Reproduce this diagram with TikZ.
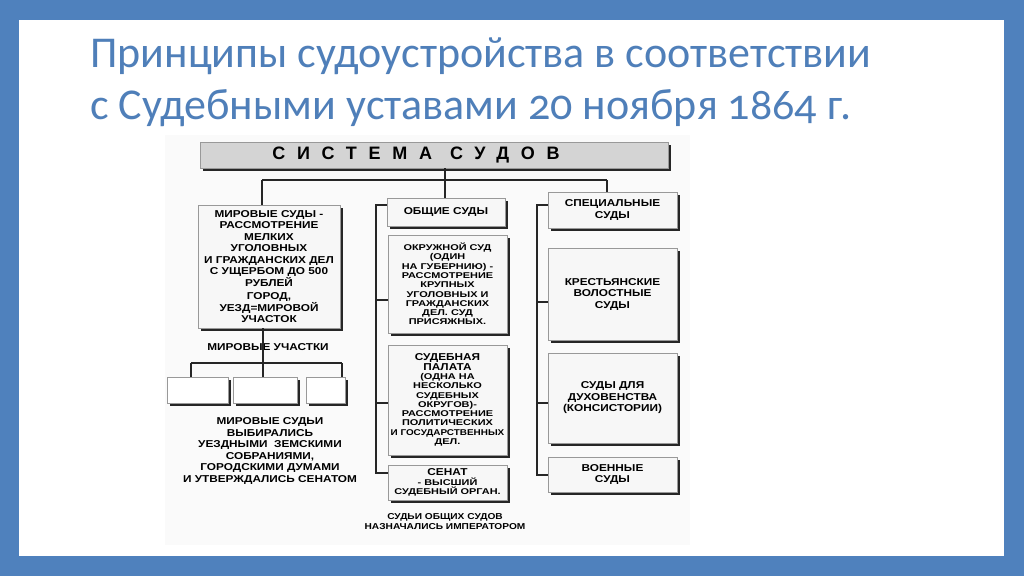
\documentclass[tikz,border=0pt]{standalone}
\usepackage{fontspec}
\setmainfont{Liberation Sans}
\newfontfamily\titrefont[Numbers=OldStyle]{Carlito}
\newfontfamily\scan[FakeStretch=1.18]{Liberation Sans}
\newfontfamily\scanl[FakeStretch=1.3]{Liberation Sans}
\usetikzlibrary{shadows}
\definecolor{bleu}{HTML}{4F81BD}
\definecolor{bleutexte}{HTML}{4F7FB9}
\newcommand\gros[1]{{\scan\fontsize{10}{11}\selectfont #1}}
\begin{document}
\begin{tikzpicture}[x=1pt,y=-1pt]
\tikzset{boite/.style={draw=black!40, fill=black!3, line width=0.4pt,
    drop shadow={shadow xshift=3pt, shadow yshift=-3pt, fill=black!85, opacity=1},
    align=center, inner sep=1pt, font=\scan\bfseries\fontsize{10}{11.5}\selectfont},
  petite/.style={boite, font=\scanl\bfseries\fontsize{8.4}{9.3}\selectfont},
  legende/.style={align=center, inner sep=0pt, font=\scan\bfseries\fontsize{10}{11.5}\selectfont},
  ligne/.style={line width=1.2pt, black!85},
  titre/.style={anchor=base west, inner sep=0pt, text=bleutexte, font=\titrefont\fontsize{44}{46}\selectfont}}
\useasboundingbox (0,0) rectangle (1024,576);
\fill[bleu] (0,0) rectangle (1024,576);
\fill[white] (19,20) rectangle (1004,556);
\node[titre] (titre1) at (90,67) {Принципы судоустройства в соответствии};
\node[titre] (titre2) at (90,119) {с Судебными уставами 20 ноября 1864 г.};
% fond du schema
\fill[black!2] (165,135) rectangle (690,545);
% systeme
\node[boite, fill=black!17, minimum width=468, minimum height=26,
  font=\bfseries\fontsize{18}{18}\selectfont\addfontfeature{LetterSpace=65}] (sys) at (434,155)
  {СИСТЕМА\quad СУДОВ\kern36pt};
% mirovye sudy
\node[boite, minimum width=142, minimum height=123] (mir) at (269,266.5)
  {МИРОВЫЕ СУДЫ -\\РАССМОТРЕНИЕ\\МЕЛКИХ\\УГОЛОВНЫХ\\И ГРАЖДАНСКИХ ДЕЛ\\С УЩЕРБОМ ДО 500\\РУБЛЕЙ\\[2pt]ГОРОД,\\УЕЗД=МИРОВОЙ\\УЧАСТОК};
\node[legende] (uch) at (268,347) {МИРОВЫЕ УЧАСТКИ};
\node[boite, fill=white, minimum width=61, minimum height=26] (uc1) at (197.5,390) {};
\node[boite, fill=white, minimum width=64, minimum height=26] (uc2) at (265,390) {};
\node[boite, fill=white, minimum width=39, minimum height=26] (uc3) at (325.5,390) {};
\node[legende] (vybor) at (270,451)
  {МИРОВЫЕ СУДЬИ\\ВЫБИРАЛИСЬ\\УЕЗДНЫМИ\ \ ЗЕМСКИМИ\\СОБРАНИЯМИ,\\ГОРОДСКИМИ ДУМАМИ\\И УТВЕРЖДАЛИСЬ СЕНАТОМ};
% obshchie sudy
\node[boite, minimum width=118, minimum height=28] (gen) at (446,212) {ОБЩИЕ СУДЫ};
\node[petite, minimum width=119, minimum height=98] (okr) at (447.5,284)
  {ОКРУЖНОЙ СУД\\(ОДИН\\НА ГУБЕРНИЮ) -\\РАССМОТРЕНИЕ\\КРУПНЫХ\\УГОЛОВНЫХ И\\ГРАЖДАНСКИХ\\ДЕЛ. СУД\\ПРИСЯЖНЫХ.};
\node[petite, minimum width=119, minimum height=110] (pal) at (447.5,400)
  {\gros{СУДЕБНАЯ}\\\gros{ПАЛАТА}\\(ОДНА НА\\НЕСКОЛЬКО\\СУДЕБНЫХ\\ОКРУГОВ)-\\РАССМОТРЕНИЕ\\ПОЛИТИЧЕСКИХ\\{\scan И ГОСУДАРСТВЕННЫХ}\\ДЕЛ.};
\node[petite, minimum width=119, minimum height=35] (sen) at (447.5,482.5)
  {\gros{СЕНАТ}\\- ВЫСШИЙ\\СУДЕБНЫЙ ОРГАН.};
\node[legende, font=\scan\bfseries\fontsize{8.6}{10}\selectfont] (nazn) at (445,522)
  {СУДЬИ ОБЩИХ СУДОВ\\НАЗНАЧАЛИСЬ ИМПЕРАТОРОМ};
% specialnye sudy
\node[boite, minimum width=129, minimum height=36] (spec) at (612.5,210) {СПЕЦИАЛЬНЫЕ\\СУДЫ};
\node[boite, minimum width=129, minimum height=92] (kre) at (612.5,294) {КРЕСТЬЯНСКИЕ\\ВОЛОСТНЫЕ\\СУДЫ};
\node[boite, minimum width=129, minimum height=90] (duh) at (612.5,398) {СУДЫ ДЛЯ\\ДУХОВЕНСТВА\\(КОНСИСТОРИИ)};
\node[boite, minimum width=129, minimum height=35] (voe) at (612.5,474.5) {ВОЕННЫЕ\\СУДЫ};
% liaisons
\coordinate (j0) at (445,180);
\coordinate (jg) at (262,180);
\coordinate (jd) at (607,180);
\draw[ligne] (sys.south -| j0) -- (j0);
\draw[ligne] (jg) -- (jd);
\draw[ligne] (jg) -- (jg |- mir.north);
\draw[ligne] (j0) -- (j0 |- gen.north);
\draw[ligne] (jd) -- (jd |- spec.north);
\coordinate (jm) at (263,0);
\coordinate (ug) at (191,363);
\coordinate (ud) at (342,363);
\draw[ligne] (mir.south -| jm) -- (uc2.north -| jm);
\draw[ligne] (ug) -- (ud);
\draw[ligne] (ug) -- (ug |- uc1.north);
\draw[ligne] (ud) -- (ud |- uc3.north);
\coordinate (bh) at (376,205);
\coordinate (bb) at (376,473);
\draw[ligne] (bh -| gen.west) -- (bh) -- (bb) -- (bb -| sen.west);
\draw[ligne] ([yshift=-16pt]okr.west) -- ([yshift=-16pt]okr.west -| bh);
\draw[ligne] ([yshift=-3pt]pal.west) -- ([yshift=-3pt]pal.west -| bh);
\coordinate (ch) at (537,205);
\coordinate (cb) at (537,475);
\draw[ligne] (ch -| spec.west) -- (ch) -- (cb) -- (cb -| voe.west);
\draw[ligne] ([yshift=-8pt]kre.west) -- ([yshift=-8pt]kre.west -| ch);
\draw[ligne] ([yshift=-5pt]duh.west) -- ([yshift=-5pt]duh.west -| ch);
\end{tikzpicture}
\end{document}
